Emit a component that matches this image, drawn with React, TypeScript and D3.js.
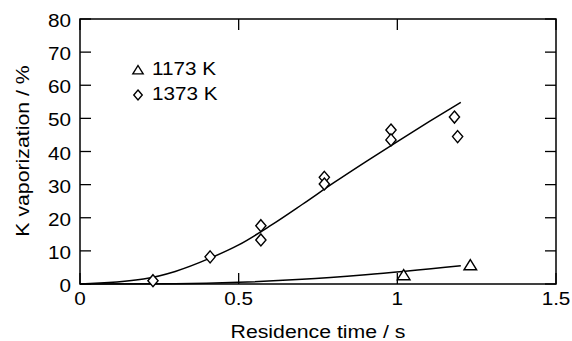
import { useMemo } from "react"
import * as d3 from "d3"

// measured points (residence time / s, K vaporization / %)
const t1373 = [0.23, 0.41, 0.57, 0.57, 0.77, 0.77, 0.98, 0.98, 1.18, 1.19]
const v1373 = [1, 8.2, 17.6, 13.3, 32.2, 30.2, 46.5, 43.5, 50.4, 44.5]
const t1173 = [1.02, 1.23]
const v1173 = [2.7, 5.7]

// fitted curves
const fitT1373 = [0, 0.2, 0.3, 0.41, 0.5, 0.6, 0.7, 0.8, 0.9, 1.0, 1.1, 1.2]
const fitV1373 = [0, 1.5, 3.8, 7.8, 11.8, 17.6, 24, 30.6, 36.9, 43, 49, 54.8]
const fitT1173 = [0, 0.3, 0.5, 0.7, 0.9, 1.2]
const fitV1173 = [0, 0.1, 0.5, 1.4, 2.8, 5.5]

const xTicks = [0, 0.5, 1, 1.5]
const xTickLabels = ["0", "0.5", "1", "1.5"]
const yTicks = [0, 10, 20, 30, 40, 50, 60, 70, 80]

const legendItems = ["1173 K", "1373 K"]

const font = "'Liberation Sans', Arial, Helvetica, sans-serif"
const sx = 1.15 // reference glyphs are a bit wider than Liberation Sans

function Diamond({ x, y, r }: { x: number; y: number; r: number }) {
    return <path d={`M${x},${y - r}L${x + r * 0.85},${y}L${x},${y + r}L${x - r * 0.85},${y}Z`} fill="#fff" stroke="#000" strokeWidth={1.4} />
}

function Triangle({ x, y, r }: { x: number; y: number; r: number }) {
    return <path d={`M${x},${y - r}L${x + r * 1.15},${y + r * 0.85}L${x - r * 1.15},${y + r * 0.85}Z`} fill="#fff" stroke="#000" strokeWidth={1.4} />
}

function Label({ x, y, anchor, size, children }: any) {
    return (
        <text transform={`translate(${x},${y}) scale(${sx},1)`} textAnchor={anchor} fontSize={size}>
            {children}
        </text>
    )
}

export default function App() {
    const width = 572
    const height = 341
    const left = 80
    const right = 556
    const top = 19
    const bottom = 284

    const x = d3.scaleLinear().domain([0, 1.5]).range([left, right])
    const y = d3.scaleLinear().domain([0, 80]).range([bottom, top])

    const line = useMemo(
        () => d3.line<[number, number]>().x((d) => x(d[0])).y((d) => y(d[1])).curve(d3.curveMonotoneX),
        []
    )

    const fit1373 = fitT1373.map((t, i) => [t, fitV1373[i]] as [number, number])
    const fit1173 = fitT1173.map((t, i) => [t, fitV1173[i]] as [number, number])

    const tick = 11

    return (
        <svg
            width={width}
            height={height}
            style={{ position: "absolute", left: 0, top: 0, background: "#fff" }}
            fontFamily={font}
        >
            {/* frame */}
            <rect x={left} y={top} width={right - left} height={bottom - top} fill="none" stroke="#000" strokeWidth={1.5} />

            {/* ticks */}
            {yTicks.map((v) => (
                <g key={"y" + v}>
                    <line x1={left} x2={left + tick} y1={y(v)} y2={y(v)} stroke="#000" strokeWidth={1.3} />
                    <line x1={right} x2={right - tick} y1={y(v)} y2={y(v)} stroke="#000" strokeWidth={1.3} />
                    <Label x={71} y={y(v) + 8} anchor="end" size={18}>
                        {v}
                    </Label>
                </g>
            ))}
            {xTicks.map((v, i) => (
                <g key={"x" + v}>
                    <line x1={x(v)} x2={x(v)} y1={bottom} y2={bottom - tick} stroke="#000" strokeWidth={1.3} />
                    <line x1={x(v)} x2={x(v)} y1={top} y2={top + tick} stroke="#000" strokeWidth={1.3} />
                    <Label x={x(v)} y={305} anchor="middle" size={18}>
                        {xTickLabels[i]}
                    </Label>
                </g>
            ))}

            {/* axis titles */}
            <Label x={(left + right) / 2} y={338} anchor="middle" size={18.5}>
                Residence time / s
            </Label>
            <text transform={`translate(29,151) rotate(-90) scale(${sx},1)`} textAnchor="middle" fontSize={18.5}>
                K vaporization / %
            </text>

            {/* fitted lines */}
            <path d={line(fit1373) || ""} fill="none" stroke="#000" strokeWidth={1.5} />
            <path d={line(fit1173) || ""} fill="none" stroke="#000" strokeWidth={1.5} />

            {/* data points */}
            {t1373.map((t, i) => (
                <Diamond key={"d" + i} x={x(t)} y={y(v1373[i])} r={6} />
            ))}
            {t1173.map((t, i) => (
                <Triangle key={"t" + i} x={x(t)} y={y(v1173[i])} r={5.5} />
            ))}

            {/* legend */}
            <Triangle x={138} y={70} r={4.5} />
            <Diamond x={138} y={95} r={5} />
            {legendItems.map((s, i) => (
                <Label key={s} x={152} y={75 + i * 25} size={18}>
                    {s}
                </Label>
            ))}
        </svg>
    )
}
